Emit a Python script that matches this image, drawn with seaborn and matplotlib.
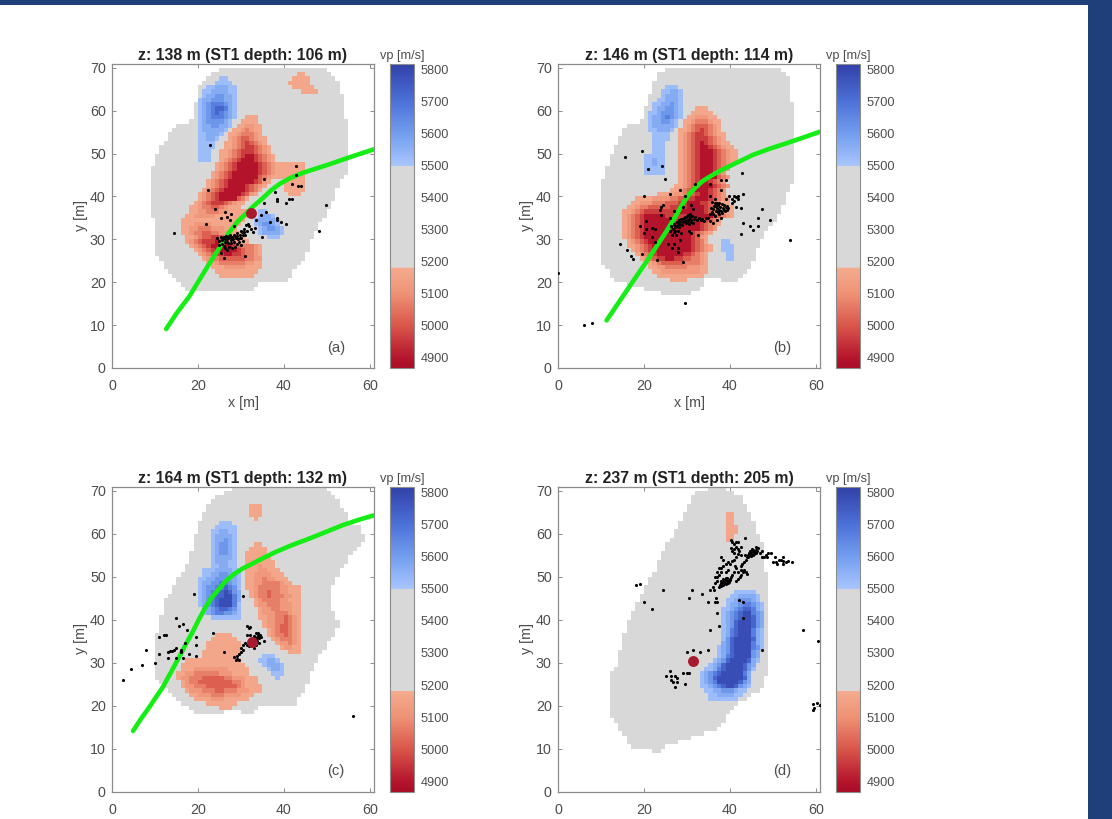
"""Four vp slices with events and the well track."""
# %%
import numpy as np
import seaborn as sns
import matplotlib.pyplot as plt
from matplotlib.colors import LinearSegmentedColormap
from matplotlib.patches import Rectangle

# %%
FIG_W, FIG_H = 1112, 819
VMIN, VMAX = 4868, 5819
GRID_ROWS, GRID_COLS = 71, 61

TITLES = [
    "z: 138 m (ST1 depth: 106 m)",
    "z: 146 m (ST1 depth: 114 m)",
    "z: 164 m (ST1 depth: 132 m)",
    "z: 237 m (ST1 depth: 205 m)",
]
TAGS = ["(a)", "(b)", "(c)", "(d)"]
CBAR_TICKS = [4900, 5000, 5100, 5200, 5300, 5400, 5500, 5600, 5700, 5800]
X_TICKS = [0, 20, 40, 60]
Y_TICKS = [0, 10, 20, 30, 40, 50, 60, 70]

# grid cell letters, vp in m/s
LEVELS = {
    "g": 5350,
    "a": 5165, "b": 5120, "c": 5070, "d": 5015, "e": 4960, "f": 4895,
    "p": 5520, "q": 5565, "r": 5615, "s": 5670, "t": 5730, "u": 5785,
    ".": np.nan,
}

# model outline as row: (first x, last x)
OUTLINE_A = {
    18: (17, 32), 19: (16, 33), 20: (15, 40), 21: (14, 41), 22: (13, 41), 23: (12, 42),
    24: (12, 43), 25: (11, 44), 26: (10, 44), 27: (10, 45), 28: (10, 45), 29: (10, 45),
    30: (10, 46), 31: (10, 46), 32: (10, 47), 33: (10, 47), 34: (10, 48), 35: (9, 49),
    36: (9, 49), 37: (9, 50), 38: (9, 50), 39: (9, 51), 40: (9, 51), 41: (9, 51),
    42: (9, 52), 43: (9, 52), 44: (9, 53), 45: (9, 54), 46: (9, 54), 47: (10, 54),
    48: (10, 54), 49: (10, 54), 50: (11, 54), 51: (11, 54), 52: (12, 54), 53: (13, 54),
    54: (13, 54), 55: (14, 54), 56: (15, 54), 57: (18, 54), 58: (19, 53), 59: (19, 53),
    60: (19, 53), 61: (19, 53), 62: (20, 53), 63: (20, 53), 64: (20, 52), 65: (20, 52),
    66: (21, 52), 67: (22, 51), 68: (23, 50), 69: (25, 49),
}
OUTLINE_B = {
    17: (24, 30), 18: (20, 32), 19: (16, 33), 20: (13, 41), 21: (12, 42), 22: (12, 43),
    23: (11, 44), 24: (10, 44), 25: (10, 45), 26: (10, 45), 27: (10, 45), 28: (10, 46),
    29: (10, 46), 30: (10, 47), 31: (10, 47), 32: (10, 48), 33: (10, 49), 34: (10, 50),
    35: (10, 50), 36: (10, 51), 37: (10, 51), 38: (10, 52), 39: (10, 52), 40: (10, 52),
    41: (10, 53), 42: (10, 53), 43: (10, 54), 44: (11, 54), 45: (11, 54), 46: (11, 54),
    47: (12, 54), 48: (12, 54), 49: (12, 54), 50: (13, 54), 51: (13, 54), 52: (14, 54),
    53: (14, 54), 54: (15, 54), 55: (15, 54), 56: (16, 54), 57: (19, 54), 58: (20, 54),
    59: (20, 54), 60: (20, 54), 61: (21, 54), 62: (21, 53), 63: (21, 53), 64: (22, 53),
    65: (22, 53), 66: (22, 53), 67: (23, 53), 68: (23, 52), 69: (25, 51),
}
OUTLINE_C = {
    18: (19, 32), 19: (18, 33), 20: (16, 42), 21: (15, 42), 22: (14, 43), 23: (13, 44),
    24: (12, 44), 25: (11, 45), 26: (10, 45), 27: (10, 45), 28: (10, 46), 29: (10, 46),
    30: (10, 47), 31: (10, 47), 32: (10, 48), 33: (10, 49), 34: (10, 49), 35: (10, 50),
    36: (10, 51), 37: (11, 51), 38: (11, 52), 39: (11, 52), 40: (11, 51), 41: (12, 51),
    42: (12, 50), 43: (12, 50), 44: (12, 50), 45: (13, 50), 46: (14, 50), 47: (14, 50),
    48: (15, 51), 49: (15, 51), 50: (16, 52), 51: (17, 52), 52: (17, 53), 53: (18, 54),
    54: (18, 54), 55: (18, 55), 56: (19, 56), 57: (19, 57), 58: (19, 58), 59: (19, 58),
    60: (20, 57), 61: (20, 57), 62: (20, 55), 63: (21, 54), 64: (21, 54), 65: (22, 53),
    66: (22, 52), 67: (23, 52), 68: (24, 51), 69: (26, 50), 70: (28, 49),
}
OUTLINE_D = {
    9: (22, 23), 10: (17, 24), 11: (16, 27), 12: (16, 30), 13: (15, 33), 14: (14, 36),
    15: (14, 37), 16: (13, 38), 17: (12, 38), 18: (12, 39), 19: (12, 40), 20: (12, 41),
    21: (12, 43), 22: (12, 44), 23: (12, 46), 24: (12, 47), 25: (12, 47), 26: (12, 47),
    27: (12, 48), 28: (13, 48), 29: (14, 48), 30: (14, 48), 31: (14, 48), 32: (14, 48),
    33: (15, 48), 34: (15, 48), 35: (15, 48), 36: (15, 48), 37: (16, 48), 38: (16, 48),
    39: (16, 48), 40: (17, 48), 41: (17, 48), 42: (18, 48), 43: (18, 48), 44: (19, 48),
    45: (19, 48), 46: (20, 48), 47: (20, 48), 48: (21, 48), 49: (21, 48), 50: (22, 48),
    51: (23, 47), 52: (23, 47), 53: (23, 47), 54: (24, 47), 55: (24, 47), 56: (25, 47),
    57: (25, 47), 58: (26, 46), 59: (27, 46), 60: (27, 45), 61: (28, 45), 62: (28, 45),
    63: (29, 44), 64: (29, 44), 65: (30, 43), 66: (30, 43), 67: (31, 42), 68: (31, 42),
    69: (32, 40), 70: (35, 38),
}

# anomalies as (row, first x, cells)
PATCHES_A = [
    (67, 25, "pp"), (66, 24, "pppp"), (65, 22, "ppqqqpp"), (64, 21, "ppqqqqpp"),
    (63, 21, "pqqrrqqp"), (62, 20, "pqqrrrqqp"), (61, 20, "pqrsssrqp"), (60, 20, "pqrsttsqp"),
    (59, 20, "pqrstsrqp"), (58, 20, "pqrsssrqp"), (57, 20, "pqrrrrqp"), (56, 20, "pqqrrqqp"),
    (55, 20, "pqqqqqp"), (54, 20, "ppqqqp"), (53, 20, "ppqqp"), (52, 20, "pppp"),
    (51, 20, "pppp"), (50, 20, "ppp"), (49, 20, "ppp"), (48, 20, "ppp"),
    (68, 43, "aa"), (67, 42, "aaaa"), (66, 41, "aaaaa"), (65, 42, "aaaaa"), (64, 44, "aaaa"),
    (58, 31, "aaa"), (57, 30, "aaaa"), (56, 29, "aabbaa"), (55, 28, "aabcbaa"),
    (54, 27, "aabcccba"), (53, 27, "abcddcbaa"), (52, 26, "aabcdedcba"), (51, 26, "aabcdeedcba"),
    (50, 25, "aabcdeeedcba"), (49, 25, "aabcdeffedcba"), (48, 25, "abcdefffedcba"),
    (47, 24, "abcdefffffedcbaaaaaaa"), (46, 24, "abcdefffffedcbaaaaaaa"),
    (45, 23, "abcdeffffffedcbaaaaaaa"), (44, 23, "abcdeffffffdcbaaaaaaaa"),
    (43, 22, "abcdeffffffedba"), (43, 40, "aaaaa"), (42, 22, "abcdeffffedcba"), (42, 40, "aaaaa"),
    (41, 21, "abcdefffffedca"), (41, 40, "aaaaa"), (40, 20, "abcdefffffedba"), (40, 41, "aaa"),
    (39, 20, "abcdeffffdca"), (38, 19, "abcdeeedcbaa"), (37, 18, "aabccddcbaaa"),
    (36, 18, "aabbcccbbaaaaa"), (35, 17, "aabbbbbaaaaaaaa"), (34, 16, "aaaaaaaaaaaaaaa"),
    (33, 16, "aaabbbbaaaaaaa"), (32, 16, "aabbcccbbbaaa"), (31, 16, "aabccddccbbaaa"),
    (30, 17, "aabcddeedcbbaa"), (29, 17, "abcdeeefedcbbaa"), (28, 18, "abcdefffffedcccba"),
    (27, 19, "abcdefffffedccba"), (26, 20, "abcdeeffeedccba"), (25, 21, "abccddddddccbb"),
    (24, 22, "aabccccccbbaa"), (23, 23, "aaabbbbbaaaa"), (22, 24, "aaaaaaaaaa"), (21, 25, "aaaaaaaa"),
    (36, 34, "pp"), (35, 34, "pqqp"), (34, 33, "pqqqqp"), (33, 33, "pqrrqp"),
    (32, 34, "pqrrqp"), (31, 34, "pqqqqp"), (30, 36, "ppp"),
]
PATCHES_B = [
    (20, 34, "...."),
    (65, 25, "ppp"), (64, 24, "ppqqp"), (63, 24, "pqqqp"), (62, 23, "ppqqqp"),
    (61, 22, "ppqqrqp"), (60, 22, "pqqrrqp"), (59, 21, "ppqrrrqp"), (58, 21, "pqqrsrqp"),
    (57, 21, "pqqrrqp"), (56, 21, "pqqqqqp"), (55, 21, "ppqqqp"), (54, 22, "pppp"),
    (53, 22, "pppp"), (52, 22, "ppp"), (51, 22, "ppp"), (50, 22, "ppp"), (49, 20, "ppppp"),
    (48, 20, "ppqpp"), (47, 20, "ppqpp"), (46, 20, "ppppp"), (45, 20, "ppppp"),
    (29, 38, "pp"), (28, 38, "ppp"), (27, 38, "ppp"), (26, 39, "pp"), (25, 39, "pp"),
    (60, 32, "aaa"), (59, 31, "aaaaa"), (58, 30, "aabbbaa"), (57, 29, "aabcccbaa"),
    (56, 29, "abcdddcba"), (55, 28, "aabcdedcba"), (54, 28, "abcdeedcbaa"), (53, 28, "abcdeeedcba"),
    (52, 28, "abcdefedcbaa"), (51, 28, "abcdeffedcbaa"), (50, 28, "abcdefffedcbaa"),
    (49, 28, "abcdefffedcbaa"), (48, 28, "abcdefffedcbaa"), (47, 28, "abcdefffedcba"),
    (46, 28, "abcdefffedcb"), (45, 28, "abcdefffdcb"), (44, 28, "abcdeffffdcb"),
    (43, 28, "abcdeffedcb"), (42, 27, "aabcdefffedcb"), (41, 26, "aabcdefffedcb"),
    (40, 23, "aaaabbcddeffedcb"), (39, 18, "aaaabbbbccddeefffedcba"),
    (38, 17, "aabbbcccdddeefffeedcbaa"), (37, 16, "aabccdddddeeeeffffedcbaaa"),
    (36, 15, "aabcdeeeeeeeeffffffedcbaaa"), (35, 15, "abcdefffffeeeeeffffffedcba"),
    (34, 15, "abcdefffffffeeeefffedcb"), (33, 15, "abcdefffffffffffffedcba"),
    (32, 15, "abcdefffffffffffffedcb"), (31, 15, "abcdefffffffffffedcba"),
    (30, 15, "abcdefffffffffffedba"), (29, 16, "abcdeffffffffffedca"),
    (28, 16, "aabcdefffffffffedcba"), (27, 17, "abcdefffffffffedcba"),
    (26, 18, "abcdeffffffeedcba"), (25, 19, "abcdeeffeeddccba"), (24, 21, "abcdddddccccba"),
    (23, 21, "aabbcccccbbbaa"), (22, 22, "aabbbbbbbbbaa"), (21, 23, "aaaaaaaaaaa"), (20, 26, "aaaa"),
]
PATCHES_C = [
    (18, 26, "...."),
    (66, 32, "aaa"), (65, 32, "aaa"), (64, 32, "aaa"), (63, 33, "a"),
    (62, 25, "ppp"), (61, 24, "ppppp"), (60, 23, "ppqqpp"), (59, 23, "pqqqqp"), (58, 23, "pqqrqp"),
    (57, 23, "pqrrqp"), (56, 23, "pqrrqp"), (55, 23, "pqrrqp"), (54, 23, "pqqqqp"), (53, 23, "pqqqpp"),
    (52, 23, "ppqqpp"), (51, 21, "pppqqqqpp"), (50, 21, "ppqqrrqqp"), (49, 20, "ppqqrrrqqp"),
    (48, 20, "pqqrrssrqp"), (47, 20, "pqrrsstsrp"), (46, 20, "pqrsttutrq"), (45, 20, "pqrsttuusq"),
    (44, 20, "pqrstuuusq"), (43, 20, "pqrstuuusp"), (42, 21, "pqrsttsrp"), (41, 21, "pqrssrrqp"),
    (40, 23, "ppppppp"),
    (57, 33, "aa"), (56, 32, "aaaa"), (55, 31, "aaaaa"), (54, 31, "aaaaaa"), (53, 31, "aaaaaaa"),
    (52, 31, "aaabaaa"), (51, 31, "aaabbaaa"), (50, 31, "aabbbbaaa"), (49, 31, "aabbcbbaaa"),
    (48, 31, "aabbccccbaa"), (47, 31, "aabcccccbbaaa"), (46, 32, "abccdccbbaaa"), (45, 32, "abccdcccbbaa"),
    (44, 33, "abccccbbaaa"), (43, 33, "abbcccbbbaa"), (42, 34, "abbccbbbaa"), (41, 34, "abbbcccbaa"),
    (40, 34, "aabbccdcba"), (39, 35, "abbccdcba"), (38, 35, "abbcddcba"), (37, 36, "abcddcba"),
    (36, 36, "abccdcba"), (35, 37, "abcccba"), (34, 38, "abbcba"), (33, 39, "abbaa"), (32, 41, "aaa"),
    (36, 24, "aaaa"), (35, 23, "aaaaaa"), (34, 22, "aaaaaaaa"), (33, 22, "aaaaaaaa"),
    (32, 21, "aaaaaaaaa"), (31, 21, "aaaaaaaa"), (30, 17, "aaaaaaaaaaaaa"), (29, 16, "aaaaaaaaaaaaaaa"),
    (28, 16, "aaabbbbbbbbaaaaa"), (27, 15, "aabbccccccbbbaaaa"), (26, 15, "abbcccdddddccbbbaaa"),
    (25, 16, "abccddddddddccbaaa"), (24, 16, "abbcccdddddddcbaaaa"), (23, 17, "abbbcccddcccbbbaaa"),
    (22, 18, "aabbbcccbbbbaaa"), (21, 19, "aaaabbbaaaaaa"), (20, 22, "aaaaaaa"), (19, 25, "aaa"),
    (31, 35, "ppp"), (30, 34, "ppqqp"), (29, 35, "pqqqp"), (28, 36, "pqqp"), (27, 37, "ppp"), (26, 38, "p"),
]
PATCHES_D = [
    (64, 39, "aa"), (63, 39, "aa"), (62, 39, "aa"), (61, 39, "aaa"), (60, 39, "aaa"), (59, 39, "aa"), (58, 39, "aa"),
    (46, 41, "ppppp"), (45, 40, "ppqqqqp"), (44, 39, "ppqrrrqp"), (43, 39, "pqqrssrqp"),
    (42, 38, "ppqrsttsqp"), (41, 38, "pqrstuusrq"), (40, 38, "pqrstuutrq"), (39, 38, "pqrtuuutrq"),
    (38, 38, "pqrtuuutrq"), (37, 38, "pqstuuusqp"), (36, 38, "pqstuuusqp"), (35, 38, "prtuuuutqp"),
    (34, 38, "qrtuuuusqp"), (33, 37, "pqrtuuuusrp"), (32, 37, "pqrtuuuurq"), (31, 37, "pqstuuuurq"),
    (30, 36, "pqrtuuuutqp"), (29, 35, "pqrtuuuutrq"), (28, 34, "ppqstuuuutrp"), (27, 33, "pqrstuuuuusq"),
    (26, 33, "pqrtuuuuuutq"), (25, 33, "pqrsuuuuutrq"), (24, 33, "ppqrstuutrqp"), (23, 34, "ppqqrrrqpp"),
    (22, 35, "ppqqqqpp"), (21, 35, "ppppppp"),
]

# well track
TRACK_A_X = [12.6, 15, 18, 20.5, 22.7, 25, 27.4, 29.3, 31.2, 33, 35, 37, 39, 41.5, 44.4, 47.5, 50.6, 55.5, 61]
TRACK_A_Y = [9.1, 12.7, 16.7, 20.8, 24.4, 28, 31.8, 34.2, 36, 37.8, 39.5, 41.4, 42.9, 44.3, 45.5, 46.5, 47.5, 49.2, 51]
TRACK_B_X = [11.3, 13.6, 15.9, 18.2, 20.6, 22.9, 25.2, 27.2, 29.1, 30.6, 32.2, 33.7, 35.3, 37.6, 40, 42.7, 45.4, 49.2, 53.2, 57, 61]
TRACK_B_Y = [11.1, 14.5, 17.9, 21.3, 24.8, 28.3, 31.8, 35.1, 38.4, 40.6, 42.3, 43.6, 44.6, 45.9, 47.1, 48.4, 49.7, 51.1, 52.4, 53.7, 55.1]
TRACK_C_X = [4.9, 6.8, 8.8, 10.4, 11.9, 13.8, 15.7, 17.2, 18.8, 20.2, 21.6, 23.1, 24.7, 26.3, 28.1, 30.4, 32.8, 35.5, 38.2, 42, 46, 50, 53.7, 57.3, 61]
TRACK_C_Y = [14.1, 17, 19.8, 22.2, 24.4, 27.9, 31.4, 34.3, 37.2, 40, 42.6, 45, 46.9, 48.8, 50.4, 51.9, 53.1, 54.5, 55.8, 57.4, 58.9, 60.5, 62, 63.2, 64.3]

# main event location
HYPO_X = [32.4, 32.4, 32.6, 31.4]
HYPO_Y = [36.2, 35.9, 34.9, 30.4]

# events
EVENTS_A = [
    (22.9, 52), (22.3, 41.5), (35.3, 44), (42.9, 47), (42.9, 45), (41.9, 43), (43.3, 42.5), (44, 42.5),
    (38, 41), (35.3, 38.5), (38.4, 39.5), (38.4, 39), (40.4, 38.5), (41.3, 39.5), (41.9, 39.5), (49.8, 38),
    (48.3, 32), (14.4, 31.5), (23.9, 37), (21.9, 33.5), (25.4, 35), (26.4, 36.4), (26.7, 35.3), (27.8, 36),
    (27.4, 34.5), (28.4, 33), (35.9, 36.4), (34.7, 35.7), (33.6, 34.5), (36.9, 34), (38.4, 34.9), (38.4, 34.4),
    (39.4, 34), (40.4, 33.5), (35, 30.6), (33.4, 32.6), (32.8, 31.8), (30.9, 26), (26, 25.6), (25.4, 26.7),
    (26.4, 27.9), (24.5, 30.3), (25, 29.5), (25.3, 30.5), (25.7, 29.8), (26, 30.5), (26.2, 29.3), (26.5, 30.8),
    (26.8, 30), (27, 29.2), (27.3, 30.7), (27.5, 31), (27.8, 29.8), (28, 30.5), (28.3, 29.4), (28.5, 31),
    (28.8, 30.2), (29, 31.5), (29.3, 30), (29.5, 29.3), (29.8, 31), (30, 30.4), (30.3, 31.7), (30.5, 29.7),
    (30.8, 32.5), (31, 31), (31.3, 33.3), (31.7, 33.5), (32, 33), (32.3, 32.5), (27.2, 28.3), (26.8, 27.6),
    (28, 28), (28.6, 28.3), (26, 28.5), (25.7, 28.9), (24.8, 28.6), (29.2, 28.8), (30, 28.6),
    (26.3, 30), (27, 30.4), (27.6, 30.2), (28.2, 30), (28.7, 30.7), (29.2, 30.7), (29.7, 30.3), (30.4, 31),
    (25.5, 30), (26.7, 29.4), (27.7, 29.2), (31.5, 32), (30.8, 31.8), (30, 32),
]
EVENTS_B = [
    (19.6, 50.6), (15.5, 49.1), (21, 46.5), (24.1, 47), (25, 44), (20, 40), (26, 40.6), (28.5, 41.6),
    (29.5, 40.2), (32, 43), (35.5, 43), (38, 43.9), (39, 43.9), (42.9, 45.4), (38, 41.6), (29.5, 15.1),
    (6, 10.1), (8, 10.6), (0, 22.2), (54, 29.9), (14.5, 29), (16, 27.5), (17, 26), (17.5, 25.4), (19.6, 26.6),
    (23, 25.2), (29, 24.7), (19, 33.2), (20.5, 34.2), (20, 31.4), (20.6, 32.4), (22, 32.6), (22.5, 32.4),
    (22, 30.5), (22.5, 29.3), (25.5, 29), (27, 29), (26.5, 28), (28, 28), (28, 27), (28.3, 29.8), (24, 35.7),
    (24, 37.6), (24.5, 38), (23.7, 36.8), (39, 39.5), (39.7, 40), (40.5, 39.5), (41, 40), (41.5, 39.8),
    (42, 40), (42, 39.5), (41, 39), (43, 40.5), (40.5, 38.5), (41.5, 37.5), (42.5, 37.2), (47.5, 37),
    (46.6, 35), (49.4, 34.6), (43, 33.7), (44.6, 33.1), (45.5, 32.2), (46.6, 33.1), (42.5, 31.2),
    (26, 32), (26.4, 33), (26.8, 32.4), (27, 33.6), (27.3, 32.8), (27.6, 34), (27.9, 33.2), (28.2, 34.4),
    (28.4, 33.6), (28.7, 34.8), (29, 34), (29.3, 35), (29.5, 34.3), (29.8, 35.3), (30, 34.6), (30.3, 35.6),
    (30.5, 34.8), (30.8, 35.3), (31, 34.5), (31.3, 35.5), (31.6, 34.8), (32, 35.2), (32.4, 34.6), (32.8, 35),
    (33.2, 34.4), (33.6, 34.8), (34, 34.2), (34.4, 35), (26.5, 31), (27, 31.6), (27.5, 31), (28, 32), (28.6, 31.5),
    (30.5, 32), (31, 31.5), (32.5, 31), (26, 35), (27, 36.5), (29, 37.5), (31, 38), (31.5, 37), (30.5, 33.5),
    (35, 35), (35.4, 35.8), (35.8, 36.3), (36, 37), (36.3, 37.8), (36.5, 38.5), (36.8, 36.5), (37, 37.2),
    (37.3, 38), (37.5, 36.8), (37.8, 37.5), (38, 36.6), (38.3, 37.3), (38.6, 36.9), (39, 37.6), (39.3, 36.8),
    (39.6, 37.3), (37, 38.5), (36.5, 39.5), (35.5, 40), (36, 33.8), (37, 34.4), (35.5, 34.2), (38, 35), (36.5, 35.5),
    (27.5, 33), (28, 33.8), (28.5, 34.2), (29, 34.7), (29.5, 35.1), (30, 35.5), (30.2, 34.2), (29.7, 33.8), (28.9, 33.4),
    (28.2, 32.9), (27.3, 32), (31, 34), (31.5, 33.8), (30.7, 36), (37.2, 36.3), (37.6, 36), (38.2, 36.2), (38.9, 36.5),
    (39.4, 37.8), (38.7, 37.9), (38.1, 38.2), (37.6, 38.4), (36.9, 37.8), (36.2, 36), (35.7, 37.4), (35.9, 38.6),
]
EVENTS_C = [
    (19, 46), (30.4, 45.5), (15, 40.5), (15.5, 38.5), (16.5, 39), (17.5, 37.5), (11, 36), (12, 36.5), (12.5, 36.5),
    (19.5, 36), (23.5, 37), (8, 33), (11, 32), (7, 29.5), (4.5, 28.5), (2.5, 26), (10, 30), (13, 31), (15, 31),
    (16, 33), (16.5, 31), (18, 32), (19.5, 31.5), (19.5, 34), (17, 34.5), (13, 32.5), (13.5, 32.7), (14, 32.8),
    (14.5, 33), (15, 33.3), (16, 32.5), (26, 32.5), (56, 17.5), (31.5, 38.5), (31.8, 38), (32.2, 38.3),
    (31.5, 36.5), (32.2, 36.5), (33, 36.3), (33.5, 36.8), (34, 37), (34.5, 36.5), (34.3, 35.8), (33.7, 35.7),
    (33, 35.5), (34.8, 36), (35.5, 35), (33.8, 35), (34.2, 34.5), (33.5, 34), (33, 33.5), (32, 33.8), (31, 34.5),
    (30.5, 34), (30, 33.5), (30.5, 33), (30, 32.5), (29.5, 32), (29, 31.5), (28.5, 31.2), (29, 30.8), (29.5, 30.5),
    (28.8, 30.5), (31.5, 34), (32.5, 34), (33.5, 35.2), (34, 36), (34.4, 36.2), (33.3, 36), (33.9, 36.4),
]
EVENTS_D = [
    (18.1, 48), (19, 48.4), (24.5, 47), (31.1, 47), (30.5, 45), (20, 44), (22, 42.5), (33.6, 46), (34.9, 44),
    (36.5, 44), (37, 44), (36.9, 45), (37, 41.5), (37.5, 38.5), (35.5, 37.5), (43.1, 40.5), (42.1, 44.5),
    (43.1, 44), (47.5, 33), (57.1, 37.5), (60.6, 35), (30, 32.5), (31.5, 33), (33, 32.5), (35, 33),
    (26, 28), (25.1, 27), (26.4, 27), (27.2, 27), (26.4, 26), (27.7, 26.4), (26.8, 25.6), (27.8, 25.6),
    (27.2, 24.4), (29, 27.5), (30, 27.5), (30.6, 27.5), (29.5, 25), (59.4, 20.3), (59.5, 19.4), (59.4, 19),
    (60.3, 20.5), (61, 20.2), (37.5, 47.5), (37.8, 48), (38, 47.8), (38.3, 48.3), (38.5, 48), (38.8, 48.6),
    (39, 48.2), (39.3, 49), (39.5, 48.5), (39.8, 49.3), (38, 49), (38.5, 49.5), (39, 49.8), (40, 49.5),
    (40.3, 50), (40.6, 50.5), (37, 49), (36.5, 48.5), (36, 47.5), (35.5, 47), (36.3, 47), (37, 50), (36.5, 50),
    (41, 51), (41.5, 52), (42, 51), (41.3, 52.5), (42.5, 52.5), (42.8, 53), (43.3, 53.5), (43.8, 54), (44.3, 54.5),
    (44.7, 55), (45, 55.3), (45.4, 55.7), (45.8, 56), (46.2, 56.3), (46.5, 56.7), (44.5, 55.5), (45, 56),
    (45.5, 56.3), (44, 54.6), (43.5, 55), (46, 55.5), (47, 55.5), (47.5, 56), (46, 57), (42, 49.5), (42.3, 50),
    (42.6, 50.5), (43, 51), (43.4, 51.5), (43.8, 51), (42.5, 51.5), (41.5, 49), (44, 50.7), (38, 52), (38.5, 52.5),
    (39, 53), (39.5, 53.5), (40, 53), (40.5, 53.7), (41, 54), (41.5, 54.5), (38, 51), (38.3, 54), (38, 54.5),
    (37.5, 52), (37, 51), (37.5, 50.5), (39.5, 51.5), (39, 51), (40.3, 58.5), (40.6, 58), (41, 57.5), (41.4, 57),
    (41.8, 56.5), (42.2, 56), (40.5, 56), (41, 55.5), (40.3, 56.8), (41.5, 58), (42, 58), (43.5, 59), (42.5, 57),
    (41, 56.5), (42.5, 55), (41.8, 55.3), (47.5, 54.5), (48, 54.7), (48.5, 55), (49, 55.5), (49.6, 55.6),
    (48.7, 54.5), (50, 53.5), (50.5, 54.5), (50.7, 53.5), (51.5, 54), (52, 53.8), (52.5, 53.7), (53, 53.5),
    (52.4, 54.6), (53.5, 53.7), (54.5, 53.5), (51, 53), (52.5, 53),
    (37.9, 48.6), (38.4, 48.8), (38.9, 49.2), (39.4, 49.6), (39.8, 48.8), (40.1, 49.2),
    (44.9, 54.8), (45.3, 55.1), (45.7, 55.4), (46.1, 55.8), (46.4, 56.1), (44.2, 55.1), (44.8, 55.9), (45.2, 56.4),
]

# colour stops as (vp, colour)
CMAP_STOPS = [
    (4868, "#a80c26"), (4900, "#b5162d"), (5000, "#d9564a"), (5100, "#ee9275"), (5180, "#f4ab8e"),
    (5181, "#d9d8d9"), (5499, "#d9d8d9"), (5500, "#a8c5fd"), (5600, "#739eee"), (5700, "#4d72d8"),
    (5819, "#3040a8"),
]

GRAY_TEXT = "#4d4d4d"
GRAY_BOX = "#8c8c8c"
BAND = "#1f3f7a"


# %%
def make_grid(outline, patches):
    """Fill a vp grid from the outline rows and the anomaly cells."""
    grid = np.full((GRID_ROWS, GRID_COLS), np.nan)
    for row, (first, last) in outline.items():
        grid[row, first : last + 1] = LEVELS["g"]
    for row, first, cells in patches:
        for num, cell in enumerate(cells):
            if first + num < GRID_COLS:
                grid[row, first + num] = LEVELS[cell]
    return grid


def px_axes(fig, left, top, right, bottom):
    """Add axes from a pixel box."""
    return fig.add_axes(
        [left / FIG_W, 1 - bottom / FIG_H, (right - left) / FIG_W, (bottom - top) / FIG_H]
    )


def draw_panel(fig, box, cbar_box, grid, events, hypo, track, title, tag, show_xlabel, dot_top):
    """Draw one slice with its colorbar."""
    ax = px_axes(fig, *box)
    cax = px_axes(fig, *cbar_box)
    sns.heatmap(
        grid, ax=ax, cbar_ax=cax, cmap=CMAP, vmin=VMIN, vmax=VMAX,
        xticklabels=False, yticklabels=False,
    )

    #
    if track is not None:
        sns.lineplot(
            x=track[0], y=track[1], ax=ax, sort=False, estimator=None,
            color="#14ee14", linewidth=3.3, zorder=3,
        )
    ev_x, ev_y = zip(*events)
    sns.scatterplot(x=list(ev_x), y=list(ev_y), ax=ax, color="black", s=5, linewidth=0, zorder=4)
    sns.scatterplot(
        x=[hypo[0]], y=[hypo[1]], ax=ax, color="#a6192e", s=62, linewidth=0,
        zorder=5 if dot_top else 2.5,
    )

    #
    ax.set_xlim(0, 61)
    ax.set_ylim(0, 71)
    ax.set_xticks(X_TICKS, labels=[str(x) for x in X_TICKS])
    ax.set_yticks(Y_TICKS, labels=[str(y) for y in Y_TICKS])
    ax.tick_params(axis="x", pad=8)
    ax.tick_params(axis="y", pad=4.5)
    ax.tick_params(
        direction="in", length=3, width=0.7, top=True, right=True, bottom=True, left=True,
        color=GRAY_BOX, labelcolor=GRAY_TEXT, labelsize=10.3,
    )
    for spine in ax.spines.values():
        spine.set_visible(True)
        spine.set_color(GRAY_BOX)
        spine.set_linewidth(0.9)
    ax.set_title(title, fontsize=11.4, fontweight="bold", color="#222222", pad=2.5)

    # lineplot hides the labels when the heatmap had no tick labels
    ax.set_ylabel("y [m]", fontsize=10.3, color=GRAY_TEXT, visible=True)
    ax.yaxis.set_label_coords(-0.09, 0.5)
    if show_xlabel:
        ax.set_xlabel("x [m]", fontsize=10.3, color=GRAY_TEXT, visible=True)
        ax.xaxis.set_label_coords(0.5, -0.092)
    else:
        ax.set_xlabel("")
    ax.text(52.2, 4.7, tag, fontsize=10.6, color=GRAY_TEXT, ha="center", va="center")

    #
    cbar = ax.collections[0].colorbar
    cbar.set_ticks(CBAR_TICKS, labels=[str(x) for x in CBAR_TICKS])
    cax.tick_params(
        direction="in", length=2.5, width=0.7, color=GRAY_BOX, labelcolor=GRAY_TEXT,
        labelsize=9.2, pad=5,
    )
    cbar.outline.set_visible(True)
    cbar.outline.set_edgecolor(GRAY_BOX)
    cbar.outline.set_linewidth(0.8)
    cax.set_title("vp [m/s]", fontsize=9.2, color=GRAY_TEXT, pad=3)
    return ax


# %%
sns.set_theme(style="white")
plt.rcParams["font.family"] = ["Liberation Sans", "DejaVu Sans"]

CMAP = LinearSegmentedColormap.from_list(
    "vp", [((v - VMIN) / (VMAX - VMIN), c) for v, c in CMAP_STOPS], N=512
)

fig = plt.figure(figsize=(FIG_W / 100, FIG_H / 100), dpi=100)
fig.add_artist(Rectangle((0, 1 - 5 / FIG_H), 1, 5 / FIG_H, transform=fig.transFigure, color=BAND, lw=0))
fig.add_artist(
    Rectangle((1088 / FIG_W, 0), 1 - 1088 / FIG_W, 1, transform=fig.transFigure, color=BAND, lw=0)
)

draw_panel(
    fig, (112, 63.5, 374, 368), (390, 63.5, 414, 368), make_grid(OUTLINE_A, PATCHES_A), EVENTS_A,
    (HYPO_X[0], HYPO_Y[0]), (TRACK_A_X, TRACK_A_Y), TITLES[0], TAGS[0], True, True,
)
draw_panel(
    fig, (558, 63.5, 820, 368), (836, 63.5, 860, 368), make_grid(OUTLINE_B, PATCHES_B), EVENTS_B,
    (HYPO_X[1], HYPO_Y[1]), (TRACK_B_X, TRACK_B_Y), TITLES[1], TAGS[1], True, False,
)
draw_panel(
    fig, (112, 486.5, 374, 791.5), (390, 486.5, 414, 791.5), make_grid(OUTLINE_C, PATCHES_C), EVENTS_C,
    (HYPO_X[2], HYPO_Y[2]), (TRACK_C_X, TRACK_C_Y), TITLES[2], TAGS[2], False, True,
)
draw_panel(
    fig, (558, 486.5, 820, 791.5), (836, 486.5, 860, 791.5), make_grid(OUTLINE_D, PATCHES_D), EVENTS_D,
    (HYPO_X[3], HYPO_Y[3]), None, TITLES[3], TAGS[3], False, True,
)

fig.savefig("out.png", dpi=100)
